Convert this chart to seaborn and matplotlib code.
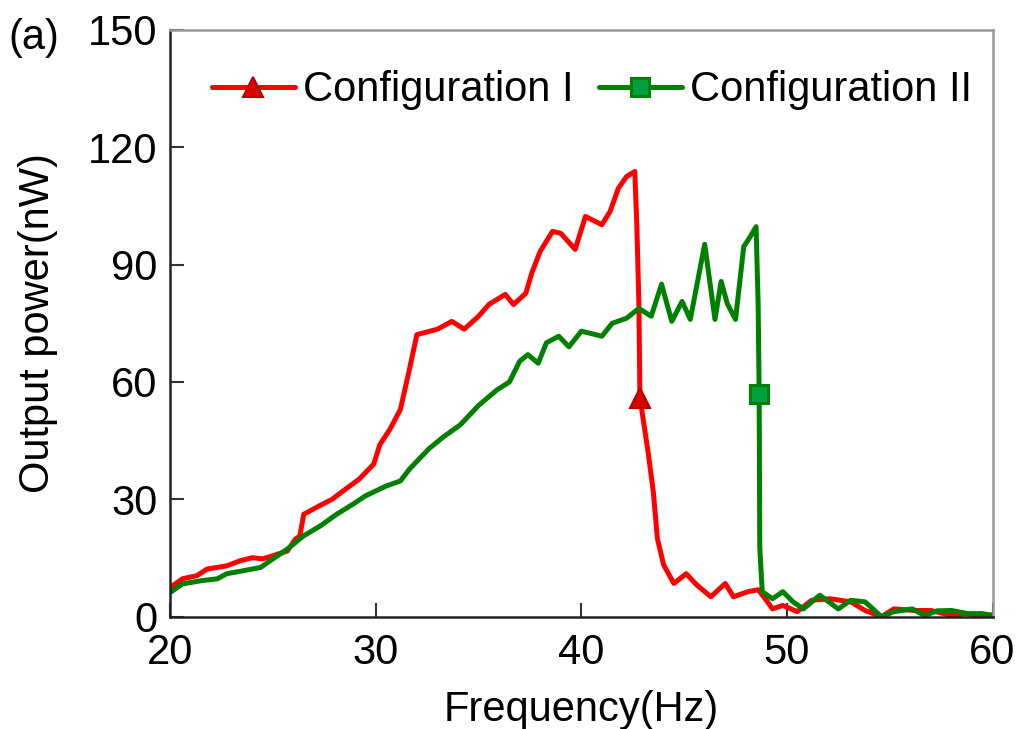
import numpy as np
import pandas as pd
import matplotlib
matplotlib.use("Agg")
import matplotlib.pyplot as plt
import seaborn as sns

# Configuration I (rouge)
freq_1 = [20.0, 20.6, 21.3, 21.8, 22.75, 23.4, 24.0, 24.5, 25.0, 25.7, 26.1, 26.3,
          26.5, 27.1, 27.9, 28.4, 29.2, 29.9, 30.2, 30.7, 31.2, 31.65, 32.0, 32.5,
          33.0, 33.7, 34.3, 35.0, 35.5, 36.3, 36.7, 37.3, 37.6, 38.0, 38.6, 39.0,
          39.7, 40.2, 41.0, 41.4, 41.8, 42.2, 42.6, 42.7, 42.8, 42.85, 43.25, 43.5,
          43.7, 44.0, 44.5, 45.1, 45.6, 46.3, 47.0, 47.4, 48.1, 48.6, 49.0, 49.3,
          49.8, 50.5, 51.2, 52.1, 53.1, 53.8, 54.6, 55.2, 56.2, 57.0, 58.0, 58.7,
          59.4, 60.0]
power_1 = [7.5, 9.7, 10.5, 12.2, 13.0, 14.3, 15.1, 14.8, 15.6, 16.8, 19.9, 20.5,
           26.2, 27.9, 30.1, 32.1, 35.2, 39.0, 44.0, 48.0, 53.0, 63.5, 72.1, 72.8,
           73.5, 75.5, 73.5, 76.8, 79.8, 82.4, 79.8, 82.7, 88.0, 93.4, 98.5, 98.0,
           93.9, 102.3, 100.2, 103.6, 109.5, 112.5, 113.8, 100.0, 80.0, 56.0, 42.0, 32.0,
           20.0, 13.3, 8.5, 11.0, 8.2, 5.1, 8.5, 5.1, 6.4, 6.9, 4.2, 2.0,
           2.9, 1.3, 4.2, 4.6, 3.8, 1.6, 0.0, 2.0, 1.6, 1.6, 0.3, 0.8,
           0.2, 0.5]
marker_idx_1 = 45

# Configuration II (vert)
freq_2 = [20.0, 20.6, 21.5, 22.3, 22.75, 23.5, 24.4, 25.0, 25.7, 26.5, 27.3, 28.1,
          28.9, 29.5, 30.5, 31.2, 31.65, 32.6, 33.3, 34.1, 35.0, 35.9, 36.5, 37.0,
          37.4, 37.9, 38.3, 38.9, 39.4, 40.0, 41.0, 41.5, 42.2, 42.8, 43.4, 43.9,
          44.4, 44.9, 45.3, 46.0, 46.5, 46.8, 47.1, 47.5, 47.9, 48.2, 48.5, 48.6,
          48.65, 48.68, 48.8, 49.3, 49.8, 50.3, 50.8, 51.6, 52.5, 53.1, 53.8, 54.6,
          55.2, 56.1, 56.7, 57.3, 58.0, 58.8, 59.5, 60.0]
power_2 = [6.2, 8.4, 9.2, 9.7, 11.0, 11.7, 12.6, 14.8, 17.3, 20.7, 23.2, 26.2,
           28.8, 30.9, 33.4, 34.7, 37.8, 43.0, 46.0, 49.0, 54.0, 58.0, 60.0, 65.3,
           67.0, 64.8, 70.0, 71.7, 69.0, 73.0, 71.7, 75.0, 76.3, 78.8, 76.8, 85.0,
           75.5, 80.6, 76.0, 95.2, 76.0, 85.7, 80.0, 76.0, 94.6, 97.0, 99.7, 80.0,
           57.0, 17.6, 6.4, 4.6, 6.4, 3.8, 2.0, 5.5, 2.0, 4.2, 3.8, 0.0,
           1.3, 2.0, 0.3, 1.5, 1.6, 0.8, 0.8, 0.3]
marker_idx_2 = 48

labels = ["Configuration I", "Configuration II"]
x_ticks = [20, 30, 40, 50, 60]
y_ticks = [0, 30, 60, 90, 120, 150]

sns.set_theme(style="ticks")
plt.rcParams['font.family'] = ['Liberation Sans', 'DejaVu Sans']
plt.rcParams['text.color'] = 'black'
plt.rcParams['axes.labelcolor'] = 'black'

fig = plt.figure(figsize=(10.19, 7.29), dpi=100)
ax = fig.add_axes([0.167, 0.154, 0.807, 0.805])

# Courbe rouge
sns.lineplot(x=freq_1, y=power_1, ax=ax, color="#FF0000", linewidth=3.6,
             estimator=None, sort=False, label=labels[0],
             marker="^", markersize=15, markevery=[marker_idx_1],
             markerfacecolor="#DD0000", markeredgecolor="#BB0000", markeredgewidth=1.5)
# Courbe verte
sns.lineplot(x=freq_2, y=power_2, ax=ax, color="#008000", linewidth=3.6,
             estimator=None, sort=False, label=labels[1],
             marker="s", markersize=13, markevery=[marker_idx_2],
             markerfacecolor="#00A040", markeredgecolor="#008000", markeredgewidth=2.2)

ax.set_xlim(20, 60)
ax.set_ylim(0, 150)
ax.set_xticks(x_ticks)
ax.set_yticks(y_ticks)
ax.set_xlabel("Frequency(Hz)", fontsize=30, labelpad=12)
ax.set_ylabel("Output power(nW)", fontsize=30, labelpad=22)
ax.tick_params(axis="both", direction="in", length=10, width=1.5,
               color="#333333", labelsize=30, labelcolor="black")
ax.tick_params(axis="x", pad=12)
ax.tick_params(axis="y", pad=9)

for side in ["left", "bottom"]:
    ax.spines[side].set_color("#222222")
    ax.spines[side].set_linewidth(1.8)
for side in ["top", "right"]:
    ax.spines[side].set_visible(True)
    ax.spines[side].set_color("#999999")
    ax.spines[side].set_linewidth(1.8)

leg = ax.legend(loc="upper center", bbox_to_anchor=(0.513, 0.995), ncol=2, frameon=False,
                fontsize=30, handlelength=2.0, handletextpad=0.2, columnspacing=0.6)

fig.text(0.008, 0.948, "(a)", fontsize=30, ha="left", va="center")

fig.savefig("out.png", dpi=100)
